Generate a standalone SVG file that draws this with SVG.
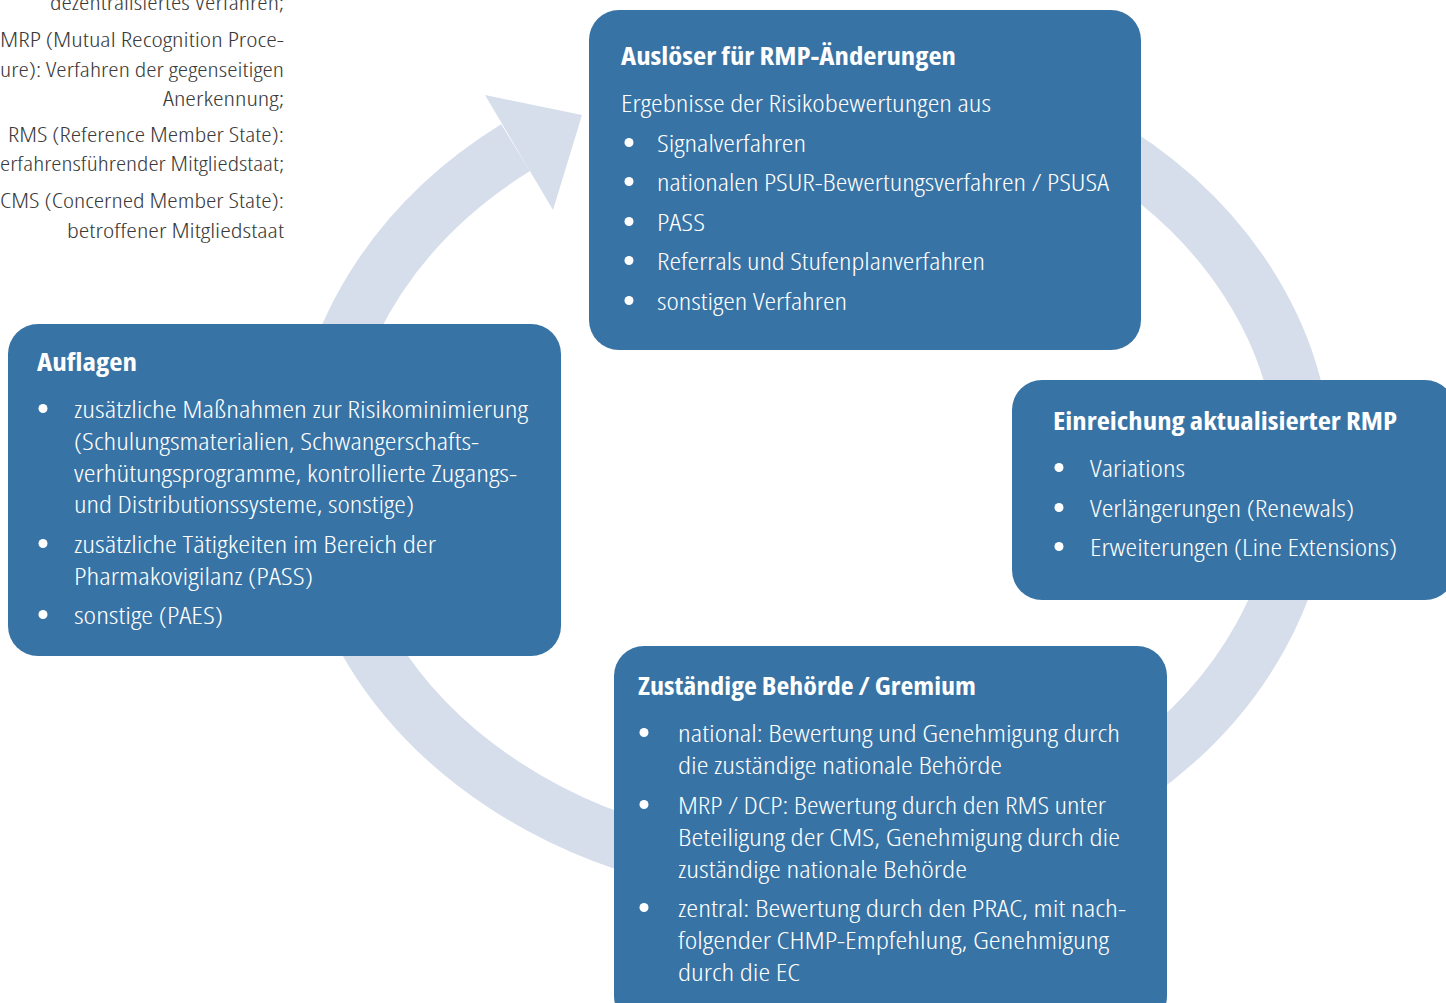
<svg xmlns="http://www.w3.org/2000/svg" width="1446" height="1003" viewBox="0 0 1446 1003">
<style>
.box{fill:#3873a5}
.t{fill:#ffffff;font-family:'Open Sans','DejaVu Sans',sans-serif;font-size:24px;font-stretch:condensed;font-weight:300}
.h{font-weight:bold;font-size:25px}
.dot{fill:#ffffff}
.leg{fill:#3a3a3a;font-family:'Open Sans','DejaVu Sans',sans-serif;font-size:21px;font-stretch:condensed;font-weight:300;text-anchor:end}
.ring{fill:none;stroke:#d6deeb;stroke-width:55}
.head{fill:#d6deeb}
</style>
<rect width="1446" height="1003" fill="#ffffff"/>
<g id="legend">
<text class="leg" x="284" y="10" textLength="234" lengthAdjust="spacingAndGlyphs">dezentralisiertes Verfahren;</text>
<text class="leg" x="284" y="47" textLength="284" lengthAdjust="spacingAndGlyphs">MRP (Mutual Recognition Proce-</text>
<text class="leg" x="284" y="77" textLength="284" lengthAdjust="spacingAndGlyphs">ure): Verfahren der gegenseitigen</text>
<text class="leg" x="284" y="106" textLength="121" lengthAdjust="spacingAndGlyphs">Anerkennung;</text>
<text class="leg" x="284" y="142" textLength="276" lengthAdjust="spacingAndGlyphs">RMS (Reference Member State):</text>
<text class="leg" x="284" y="171" textLength="284" lengthAdjust="spacingAndGlyphs">erfahrensführender Mitgliedstaat;</text>
<text class="leg" x="284" y="208" textLength="284" lengthAdjust="spacingAndGlyphs">CMS (Concerned Member State):</text>
<text class="leg" x="284" y="238" textLength="217" lengthAdjust="spacingAndGlyphs">betroffener Mitgliedstaat</text>
</g>
<g id="connectors">
<path class="ring" d="M 897.5 72.6 A 492.5 403.5 0 1 1 515.6 147.7"/>
<polygon class="head" points="485,95 582,115 553,210"/>
</g>
<g id="node-ausloeser">
<rect class="box" x="589" y="10" width="552" height="340" rx="30"/>
<text class="t h" x="621" y="65" textLength="335" lengthAdjust="spacingAndGlyphs">Auslöser für RMP-Änderungen</text>
<text class="t" x="621" y="112" textLength="370" lengthAdjust="spacingAndGlyphs">Ergebnisse der Risikobewertungen aus</text>
<circle class="dot" cx="629" cy="142.5" r="4.5"/>
<text class="t" x="657" y="152" textLength="149" lengthAdjust="spacingAndGlyphs">Signalverfahren</text>
<circle class="dot" cx="629" cy="181.5" r="4.5"/>
<text class="t" x="657" y="191" textLength="452" lengthAdjust="spacingAndGlyphs">nationalen PSUR-Bewertungsverfahren / PSUSA</text>
<circle class="dot" cx="629" cy="221.5" r="4.5"/>
<text class="t" x="657" y="231" textLength="48" lengthAdjust="spacingAndGlyphs">PASS</text>
<circle class="dot" cx="629" cy="260.5" r="4.5"/>
<text class="t" x="657" y="270" textLength="328" lengthAdjust="spacingAndGlyphs">Referrals und Stufenplanverfahren</text>
<circle class="dot" cx="629" cy="300.5" r="4.5"/>
<text class="t" x="657" y="310" textLength="190" lengthAdjust="spacingAndGlyphs">sonstigen Verfahren</text>
</g>
<g id="node-einreichung">
<rect class="box" x="1012" y="380" width="443" height="220" rx="30"/>
<text class="t h" x="1053" y="430" textLength="344" lengthAdjust="spacingAndGlyphs">Einreichung aktualisierter RMP</text>
<circle class="dot" cx="1059" cy="467.5" r="4.5"/>
<text class="t" x="1090" y="477" textLength="95" lengthAdjust="spacingAndGlyphs">Variations</text>
<circle class="dot" cx="1059" cy="507.5" r="4.5"/>
<text class="t" x="1090" y="517" textLength="264" lengthAdjust="spacingAndGlyphs">Verlängerungen (Renewals)</text>
<circle class="dot" cx="1059" cy="546.5" r="4.5"/>
<text class="t" x="1090" y="556" textLength="307" lengthAdjust="spacingAndGlyphs">Erweiterungen (Line Extensions)</text>
</g>
<g id="node-auflagen">
<rect class="box" x="8" y="324" width="553" height="332" rx="30"/>
<text class="t h" x="37" y="371" textLength="100" lengthAdjust="spacingAndGlyphs">Auflagen</text>
<circle class="dot" cx="43" cy="408.5" r="4.5"/>
<text class="t" x="74" y="418" textLength="454" lengthAdjust="spacingAndGlyphs">zusätzliche Maßnahmen zur Risikominimierung</text>
<text class="t" x="74" y="450" textLength="405" lengthAdjust="spacingAndGlyphs">(Schulungsmaterialien, Schwangerschafts-</text>
<text class="t" x="74" y="482" textLength="443" lengthAdjust="spacingAndGlyphs">verhütungsprogramme, kontrollierte Zugangs-</text>
<text class="t" x="74" y="513" textLength="340" lengthAdjust="spacingAndGlyphs">und Distributionssysteme, sonstige)</text>
<circle class="dot" cx="43" cy="543.5" r="4.5"/>
<text class="t" x="74" y="553" textLength="362" lengthAdjust="spacingAndGlyphs">zusätzliche Tätigkeiten im Bereich der</text>
<text class="t" x="74" y="585" textLength="239" lengthAdjust="spacingAndGlyphs">Pharmakovigilanz (PASS)</text>
<circle class="dot" cx="43" cy="614.5" r="4.5"/>
<text class="t" x="74" y="624" textLength="149" lengthAdjust="spacingAndGlyphs">sonstige (PAES)</text>
</g>
<g id="node-behoerde">
<rect class="box" x="614" y="646" width="553" height="380" rx="30"/>
<text class="t h" x="638" y="695" textLength="338" lengthAdjust="spacingAndGlyphs">Zuständige Behörde / Gremium</text>
<circle class="dot" cx="644" cy="732.5" r="4.5"/>
<text class="t" x="678" y="742" textLength="442" lengthAdjust="spacingAndGlyphs">national: Bewertung und Genehmigung durch</text>
<text class="t" x="678" y="774" textLength="324" lengthAdjust="spacingAndGlyphs">die zuständige nationale Behörde</text>
<circle class="dot" cx="644" cy="804.5" r="4.5"/>
<text class="t" x="678" y="814" textLength="428" lengthAdjust="spacingAndGlyphs">MRP / DCP: Bewertung durch den RMS unter</text>
<text class="t" x="678" y="846" textLength="442" lengthAdjust="spacingAndGlyphs">Beteiligung der CMS, Genehmigung durch die</text>
<text class="t" x="678" y="878" textLength="289" lengthAdjust="spacingAndGlyphs">zuständige nationale Behörde</text>
<circle class="dot" cx="644" cy="907.5" r="4.5"/>
<text class="t" x="678" y="917" textLength="448" lengthAdjust="spacingAndGlyphs">zentral: Bewertung durch den PRAC, mit nach-</text>
<text class="t" x="678" y="949" textLength="431" lengthAdjust="spacingAndGlyphs">folgender CHMP-Empfehlung, Genehmigung</text>
<text class="t" x="678" y="981" textLength="122" lengthAdjust="spacingAndGlyphs">durch die EC</text>
</g>
</svg>
